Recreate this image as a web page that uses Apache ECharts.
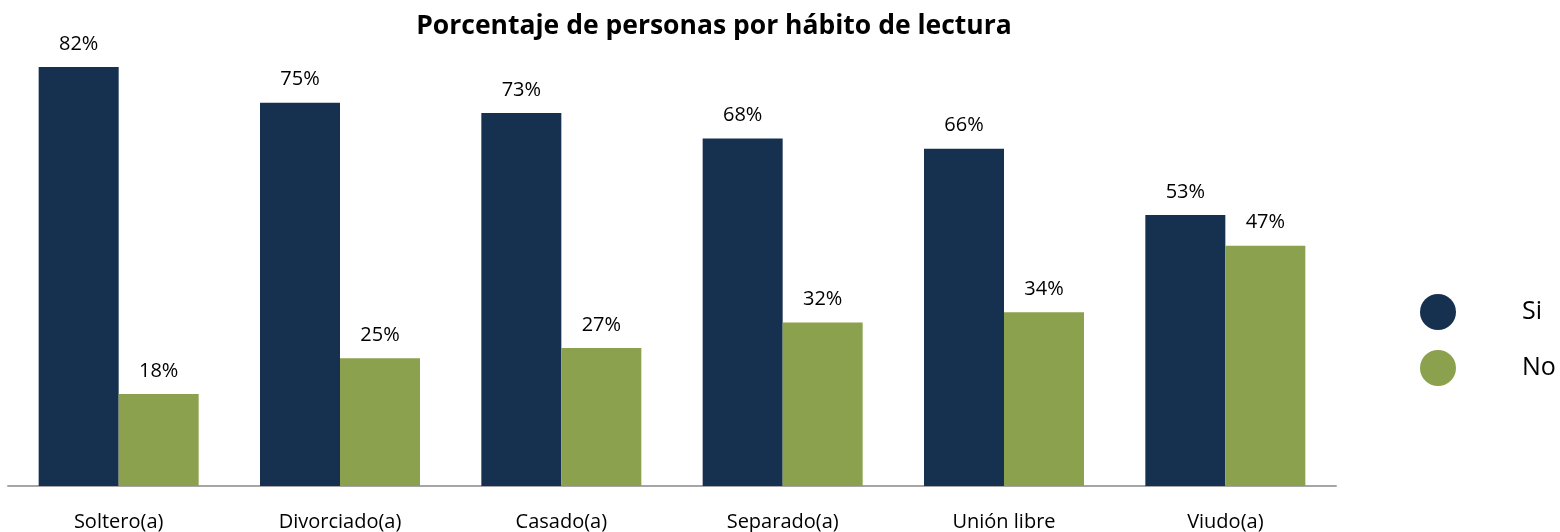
<!DOCTYPE html>
<html>
<head>
<meta charset="utf-8">
<script src="https://cdn.jsdelivr.net/npm/echarts@6/dist/echarts.min.js"></script>
<style>
  html, body { margin: 0; padding: 0; background: #fff; }
  #chart { width: 1560px; height: 532px; }
</style>
</head>
<body>
<div id="chart"></div>
<script>
  // datos
  const categorias = ['Soltero(a)', 'Divorciado(a)', 'Casado(a)', 'Separado(a)', 'Unión libre', 'Viudo(a)'];
  const si = [82, 75, 73, 68, 66, 53];
  const no = [18, 25, 27, 32, 34, 47];

  const fuente = '"Open Sans", sans-serif';
  const chart = echarts.init(document.getElementById('chart'));

  const etiqueta = {
    show: true,
    position: 'top',
    distance: 13,
    formatter: '{c}%',
    color: '#000',
    fontSize: 20,
    fontFamily: fuente
  };

  chart.setOption({
    animation: false,
    title: {
      text: 'Porcentaje de personas por hábito de lectura',
      left: 709,
      top: 8,
      textAlign: 'center',
      textStyle: { fontSize: 26.5, fontWeight: 'bold', color: '#000', fontFamily: fuente }
    },
    legend: {
      data: ['Si', 'No'],
      orient: 'vertical',
      left: 1415,
      top: 289,
      icon: 'circle',
      itemWidth: 38,
      itemHeight: 36,
      itemGap: 20,
      textStyle: { fontSize: 25, color: '#000', fontFamily: fuente, padding: [0, 0, 0, 60] }
    },
    grid: { left: 8, right: 224, top: 26, bottom: 45 },
    xAxis: {
      type: 'category',
      data: categorias,
      axisLine: { lineStyle: { color: '#a6a6a6', width: 2 } },
      axisTick: { show: false },
      axisLabel: { margin: 26, fontSize: 20, color: '#000', fontFamily: fuente }
    },
    yAxis: {
      type: 'value',
      min: 0,
      max: 90,
      show: false,
      splitLine: { show: false }
    },
    series: [
      {
        name: 'Si',
        type: 'bar',
        data: si,
        barWidth: 80,
        barGap: '0%',
        itemStyle: { color: '#16304f' },
        label: etiqueta
      },
      {
        name: 'No',
        type: 'bar',
        data: no,
        barWidth: 80,
        itemStyle: { color: '#8ba14d' },
        label: etiqueta
      }
    ]
  });
</script>
</body>
</html>
